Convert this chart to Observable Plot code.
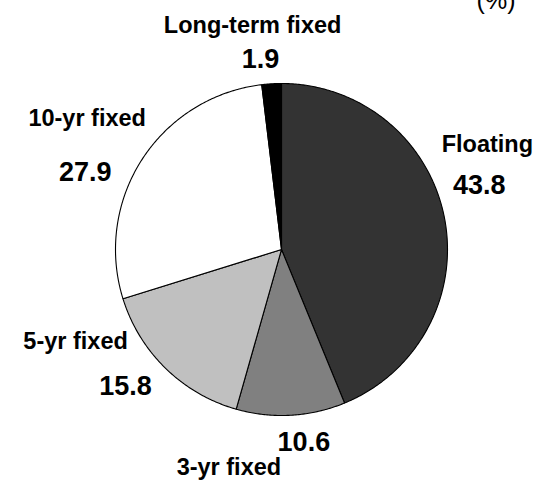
<!DOCTYPE html>
<html>
<head>
<meta charset="utf-8">
<script src="https://cdn.jsdelivr.net/npm/d3@7"></script>
<script src="https://cdn.jsdelivr.net/npm/@observablehq/plot@0.6"></script>
<style>
  html, body { margin: 0; padding: 0; background: #fff; }
  g[aria-label="slice-name"] text { text-shadow: 1px 1px 1.5px rgba(0,0,0,0.35); }
</style>
</head>
<body>
<div id="chart"></div>
<script>
// ---- data ----
const categories = ["Floating", "3-yr fixed", "5-yr fixed", "10-yr fixed", "Long-term fixed"];
const values = [43.8, 10.6, 15.8, 27.9, 1.9];
const valueLabels = ["43.8", "10.6", "15.8", "27.9", "1.9"];
const fills = ["#333333", "#808080", "#c0c0c0", "#ffffff", "#000000"];
const unitLabel = "(%)";

// ---- layout (pixels) ----
const W = 539, H = 481;
const cx = 281, cy = 249, R = 166;
// offsets of the texts from the rim point at each slice's mid angle
const nameOffsets = [[43, -65], [-62, 60], [-90, -19], [-55, -33], [-19, -51]];
const valueOffsets = [[35, -23], [13, 36], [-40, 27], [-57, 22], [-11, -16]];

const rows = categories.map((c, i) => ({name: c, value: values[i], label: valueLabels[i]}));
const arcs = d3.pie().sort(null).value(d => d.value).startAngle(0).endAngle(2 * Math.PI)(rows);

// polygon vertices for each slice (unit circle, y up)
const pts = [];
arcs.forEach(a => {
  const name = a.data.name;
  pts.push({name, x: 0, y: 0});
  const n = Math.max(2, Math.ceil((a.endAngle - a.startAngle) / (Math.PI / 360)));
  for (let k = 0; k <= n; k++) {
    const t = a.startAngle + (a.endAngle - a.startAngle) * k / n;
    pts.push({name, x: Math.sin(t), y: Math.cos(t)});
  }
  pts.push({name, x: 0, y: 0});
});

const texts = arcs.map((a, i) => {
  const m = (a.startAngle + a.endAngle) / 2;
  const mx = Math.sin(m), my = Math.cos(m);
  return {
    name: a.data.name,
    label: a.data.label,
    nx: mx + nameOffsets[i][0] / R, ny: my - nameOffsets[i][1] / R,
    vx: mx + valueOffsets[i][0] / R, vy: my - valueOffsets[i][1] / R
  };
});

const chart = Plot.plot({
  width: W,
  height: H,
  margin: 0,
  x: {domain: [-cx / R, (W - cx) / R], axis: null},
  y: {domain: [-(H - cy) / R, cy / R], axis: null},
  color: {domain: categories, range: fills},
  style: {fontFamily: "'Liberation Sans', Arial, sans-serif", background: "#fff", overflow: "visible"},
  marks: [
    Plot.line(pts, {x: "x", y: "y", z: "name", fill: "name", stroke: "#000", strokeWidth: 1.1, strokeLinejoin: "round", curve: "linear"}),
    Plot.text(texts, {x: "nx", y: "ny", text: "name", fontSize: 23.5, fontWeight: "bold", fill: "#000", lineAnchor: "bottom", textAnchor: "middle", ariaLabel: "slice-name"}),
    Plot.text(texts, {x: "vx", y: "vy", text: "label", fontSize: 27, fontWeight: "bold", fill: "#000", lineAnchor: "bottom", textAnchor: "middle"}),
    Plot.text([unitLabel], {frameAnchor: "top-right", text: d => d, dx: -24, dy: 8, fontSize: 25, lineAnchor: "bottom", textAnchor: "end", fill: "#000"})
  ]
});
document.getElementById("chart").appendChild(chart);
</script>
</body>
</html>
